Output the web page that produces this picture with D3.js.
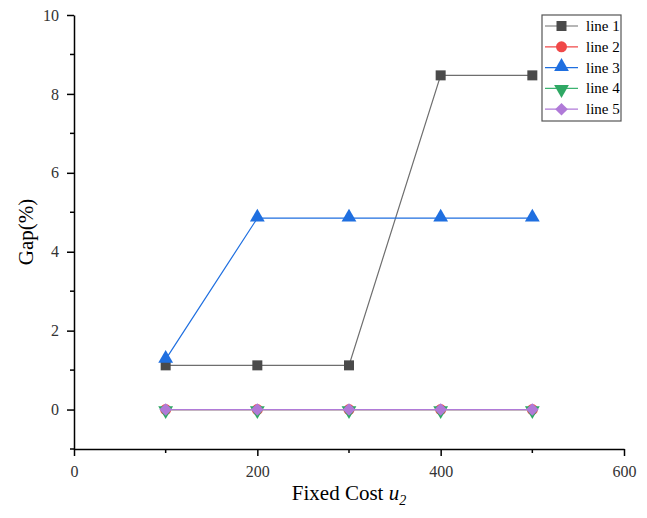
<!DOCTYPE html>
<html>
<head>
<meta charset="utf-8">
<script src="https://cdn.jsdelivr.net/npm/d3@7"></script>
<style>
  body { margin: 0; background: #fff; }
  svg, svg text { font-family: "Liberation Serif", "Times New Roman", serif; }
</style>
</head>
<body>
<div id="chart"></div>
<script>
// --- data ---
const xValues = [100, 200, 300, 400, 500];
const line1 = [1.12, 1.12, 1.12, 8.47, 8.47];
const line2 = [0, 0, 0, 0, 0];
const line3 = [1.27, 4.85, 4.85, 4.85, 4.85];
const line4 = [0, 0, 0, 0, 0];
const line5 = [0, 0, 0, 0, 0];
const seriesNames = ["line 1", "line 2", "line 3", "line 4", "line 5"];
const xTicks = [0, 200, 400, 600];
const yTicks = [0, 2, 4, 6, 8, 10];

const width = 647, height = 518;
const margin = { left: 74, right: 23, top: 15, bottom: 69 };

const svg = d3.select("#chart").append("svg")
  .attr("width", width).attr("height", height);

const x = d3.scaleLinear().domain([0, 600]).range([margin.left, width - margin.right]);
const y = d3.scaleLinear().domain([-1, 10]).range([height - margin.bottom, margin.top]);

// --- axes ---
const xAxis = svg.append("g").attr("transform", `translate(0,${height - margin.bottom})`);
xAxis.call(d3.axisBottom(x).tickValues(xTicks).tickSize(7).tickSizeOuter(0).tickPadding(10));
xAxis.selectAll(".minor").data([100, 300, 500]).enter().append("line")
  .attr("class", "minor")
  .attr("x1", d => x(d)).attr("x2", d => x(d))
  .attr("y1", 0).attr("y2", 4).attr("stroke", "#000").attr("stroke-width", 1.5);

const yAxis = svg.append("g").attr("transform", `translate(${margin.left},0)`);
yAxis.call(d3.axisLeft(y).tickValues(yTicks).tickSize(7).tickSizeOuter(0).tickPadding(8));
yAxis.selectAll(".minor").data([-1, 1, 3, 5, 7, 9]).enter().append("line")
  .attr("class", "minor")
  .attr("y1", d => y(d)).attr("y2", d => y(d))
  .attr("x1", 0).attr("x2", -4).attr("stroke", "#000").attr("stroke-width", 1.5);

[xAxis, yAxis].forEach(g => {
  g.attr("font-family", null);
  g.selectAll(".domain").attr("stroke", "#000").attr("stroke-width", 1.5);
  g.selectAll(".tick line").attr("stroke", "#000").attr("stroke-width", 1.5);
  g.selectAll(".tick text")
    .style("font-family", "'Liberation Serif', serif")
    .style("font-size", "16px").attr("fill", "#333");
});

// axis titles
const xt = svg.append("text")
  .attr("x", x(300)).attr("y", 500)
  .attr("text-anchor", "middle")
  .style("font-size", "21px");
xt.append("tspan").text("Fixed Cost ");
xt.append("tspan").attr("font-style", "italic").text("u");
xt.append("tspan").attr("font-style", "italic").style("font-size", "14px").attr("dy", 5).text("2");

svg.append("text")
  .attr("transform", `translate(33,${y(4.5)}) rotate(-90)`)
  .attr("text-anchor", "middle")
  .style("font-size", "21px")
  .text("Gap(%)");

// --- series ---
const series = [
  { name: seriesNames[0], values: line1, line: "#6e6e6e", fill: "#4a4a4a", shape: "square" },
  { name: seriesNames[1], values: line2, line: "#f04848", fill: "#f04848", shape: "circle" },
  { name: seriesNames[2], values: line3, line: "#1f6fe0", fill: "#1f6fe0", shape: "up" },
  { name: seriesNames[3], values: line4, line: "#3cb371", fill: "#2fa864", shape: "down" },
  { name: seriesNames[4], values: line5, line: "#b07ad8", fill: "#b07ad8", shape: "diamond" }
];

function symbolPath(s) {
  switch (s.shape) {
    case "square": return d3.symbol(d3.symbolSquare, 100)();
    case "circle": return d3.symbol(d3.symbolCircle, 95)();
    case "up":
    case "down": return d3.symbol(d3.symbolTriangle, 95)();
    case "diamond": return d3.symbol(d3.symbolSquare, 80)();
  }
}
function symbolTransform(s, px, py) {
  if (s.shape === "down") return `translate(${px},${py + 1}) rotate(180)`;
  if (s.shape === "up") return `translate(${px},${py - 1})`;
  if (s.shape === "diamond") return `translate(${px},${py}) rotate(45)`;
  return `translate(${px},${py})`;
}

const lineGen = d3.line().x((d, i) => x(xValues[i])).y(d => y(d));

series.forEach(s => {
  const g = svg.append("g");
  g.append("path")
    .attr("d", lineGen(s.values))
    .attr("fill", "none")
    .attr("stroke", s.line)
    .attr("stroke-width", 1.2);
  g.selectAll("path.m").data(s.values).enter().append("path")
    .attr("class", "m")
    .attr("d", symbolPath(s))
    .attr("transform", (d, i) => symbolTransform(s, x(xValues[i]), y(d)))
    .attr("fill", s.fill);
});

// --- legend ---
const lg = svg.append("g").attr("transform", "translate(542,15)");
lg.append("rect").attr("width", 79).attr("height", 106)
  .attr("fill", "#fff").attr("stroke", "#555").attr("stroke-width", 1.2);
series.forEach((s, i) => {
  const yy = 11 + i * 20.8;
  lg.append("line").attr("x1", 3).attr("x2", 36).attr("y1", yy).attr("y2", yy)
    .attr("stroke", s.line).attr("stroke-width", 1.2);
  lg.append("path").attr("d", symbolPath(s))
    .attr("transform", symbolTransform(s, 19.5, yy)).attr("fill", s.fill);
  lg.append("text").attr("x", 44).attr("y", yy + 5)
    .style("font-size", "15px").text(s.name);
});
</script>
</body>
</html>
